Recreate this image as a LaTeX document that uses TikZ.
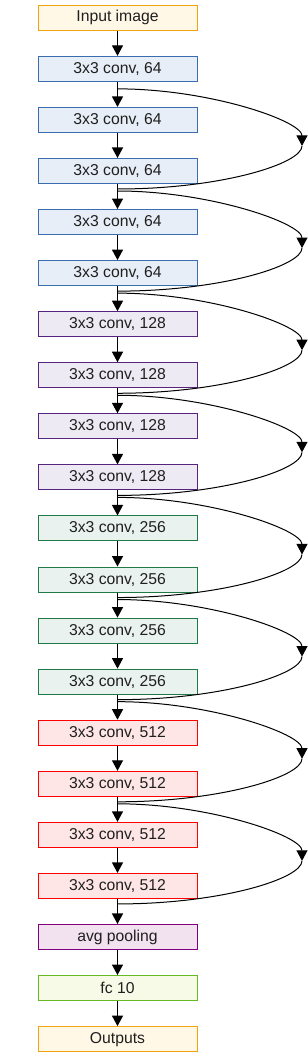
\documentclass[tikz,border=0pt]{standalone}
\usepackage{fontspec}
\setmainfont{Liberation Sans}
\usetikzlibrary{arrows.meta}

\definecolor{ioline}{HTML}{F0A30A}  \definecolor{iofill}{HTML}{FFF8E6}
\definecolor{bline}{HTML}{3A6DAE}   \definecolor{bfill}{HTML}{E8EEF7}
\definecolor{pline}{HTML}{56247E}   \definecolor{pfill}{HTML}{EEEAF3}
\definecolor{gline}{HTML}{1F7A48}   \definecolor{gfill}{HTML}{EAF2EF}
\definecolor{rline}{HTML}{FF0000}   \definecolor{rfill}{HTML}{FFE6E6}
\definecolor{aline}{HTML}{800080}   \definecolor{afill}{HTML}{F2E1EE}
\definecolor{fline}{HTML}{66BB22}   \definecolor{ffill}{HTML}{F8FAE8}

\begin{document}
\begin{tikzpicture}[x=0.75pt, y=-0.75pt, node distance=38.3pt,
    >={Triangle[width=8.25pt, length=7.9pt]}]
    \tikzstyle{layer} = [draw, line width=0.75pt, minimum width=119.25pt,
	minimum height=18.75pt, inner sep=0pt, text=black!88,
	font=\fontsize{11.8}{14}\selectfont]
    \tikzstyle{io} = [layer, draw=ioline, fill=iofill]
    \tikzstyle{c64} = [layer, draw=bline, fill=bfill]
    \tikzstyle{c128} = [layer, draw=pline, fill=pfill]
    \tikzstyle{c256} = [layer, draw=gline, fill=gfill]
    \tikzstyle{c512} = [layer, draw=rline, fill=rfill]
    \tikzstyle{pool} = [layer, draw=aline, fill=afill]
    \tikzstyle{fcl} = [layer, draw=fline, fill=ffill]
    \tikzstyle{skiptop} = [line width=0.75pt, out=0, in=90,
	out looseness=1.22, in looseness=0.33]
    \tikzstyle{skipbot} = [-, line width=0.75pt, out=-90, in=0,
	out looseness=0.24, in looseness=1.40]

    \useasboundingbox (0,0) rectangle (307,1056);

	\path[->, line width=1pt]
		node[io] at (117.5,17.8) (in) {Input image}
		node[c64, below of=in] (c1) {3x3 conv, 64}
		node[c64, below of=c1] (c2) {3x3 conv, 64}
		node[c64, below of=c2] (c3) {3x3 conv, 64}
		node[c64, below of=c3] (c4) {3x3 conv, 64}
		node[c64, below of=c4] (c5) {3x3 conv, 64}
		node[c128, below of=c5] (c6) {3x3 conv, 128}
		node[c128, below of=c6] (c7) {3x3 conv, 128}
		node[c128, below of=c7] (c8) {3x3 conv, 128}
		node[c128, below of=c8] (c9) {3x3 conv, 128}
		node[c256, below of=c9] (c10) {3x3 conv, 256}
		node[c256, below of=c10] (c11) {3x3 conv, 256}
		node[c256, below of=c11] (c12) {3x3 conv, 256}
		node[c256, below of=c12] (c13) {3x3 conv, 256}
		node[c512, below of=c13] (c14) {3x3 conv, 512}
		node[c512, below of=c14] (c15) {3x3 conv, 512}
		node[c512, below of=c15] (c16) {3x3 conv, 512}
		node[c512, below of=c16] (c17) {3x3 conv, 512}
		node[pool, below of=c17] (avg) {avg pooling}
		node[fcl, below of=avg] (fc) {fc 10}
		node[io, below of=fc] (out) {Outputs}
		(in) edge (c1)
		(c1) edge (c2)
		(c2) edge (c3)
		(c3) edge (c4)
		(c4) edge (c5)
		(c5) edge (c6)
		(c6) edge (c7)
		(c7) edge (c8)
		(c8) edge (c9)
		(c9) edge (c10)
		(c10) edge (c11)
		(c11) edge (c12)
		(c12) edge (c13)
		(c13) edge (c14)
		(c14) edge (c15)
		(c15) edge (c16)
		(c16) edge (c17)
		(c17) edge (avg)
		(avg) edge (fc)
		(fc) edge (out)
		;

	% shortcut points: leave below a block, turn at the right, join below
	\coordinate (rx) at (302,0);
	\coordinate[yshift=-5.25pt] (s1) at (c1.south);
	\coordinate[yshift=-9.75pt] (t1) at (c2.south -| rx);
	\coordinate[yshift=-3.75pt] (e1) at (c3.south);
	\coordinate[yshift=-5.25pt] (s2) at (c3.south);
	\coordinate[yshift=-9.75pt] (t2) at (c4.south -| rx);
	\coordinate[yshift=-3.75pt] (e2) at (c5.south);
	\coordinate[yshift=-5.25pt] (s3) at (c5.south);
	\coordinate[yshift=-9.75pt] (t3) at (c6.south -| rx);
	\coordinate[yshift=-3.75pt] (e3) at (c7.south);
	\coordinate[yshift=-5.25pt] (s4) at (c7.south);
	\coordinate[yshift=-9.75pt] (t4) at (c8.south -| rx);
	\coordinate[yshift=-3.75pt] (e4) at (c9.south);
	\coordinate[yshift=-5.25pt] (s5) at (c9.south);
	\coordinate[yshift=-9.75pt] (t5) at (c10.south -| rx);
	\coordinate[yshift=-3.75pt] (e5) at (c11.south);
	\coordinate[yshift=-5.25pt] (s6) at (c11.south);
	\coordinate[yshift=-9.75pt] (t6) at (c12.south -| rx);
	\coordinate[yshift=-3.75pt] (e6) at (c13.south);
	\coordinate[yshift=-5.25pt] (s7) at (c13.south);
	\coordinate[yshift=-9.75pt] (t7) at (c14.south -| rx);
	\coordinate[yshift=-3.75pt] (e7) at (c15.south);
	\coordinate[yshift=-5.25pt] (s8) at (c15.south);
	\coordinate[yshift=-9.75pt] (t8) at (c16.south -| rx);
	\coordinate[yshift=-3.75pt] (e8) at (c17.south);

	\path[->]
		(s1) edge[skiptop] (t1)  (t1) edge[skipbot] (e1)
		(s2) edge[skiptop] (t2)  (t2) edge[skipbot] (e2)
		(s3) edge[skiptop] (t3)  (t3) edge[skipbot] (e3)
		(s4) edge[skiptop] (t4)  (t4) edge[skipbot] (e4)
		(s5) edge[skiptop] (t5)  (t5) edge[skipbot] (e5)
		(s6) edge[skiptop] (t6)  (t6) edge[skipbot] (e6)
		(s7) edge[skiptop] (t7)  (t7) edge[skipbot] (e7)
		(s8) edge[skiptop] (t8)  (t8) edge[skipbot] (e8)
		;
\end{tikzpicture}
\end{document}
